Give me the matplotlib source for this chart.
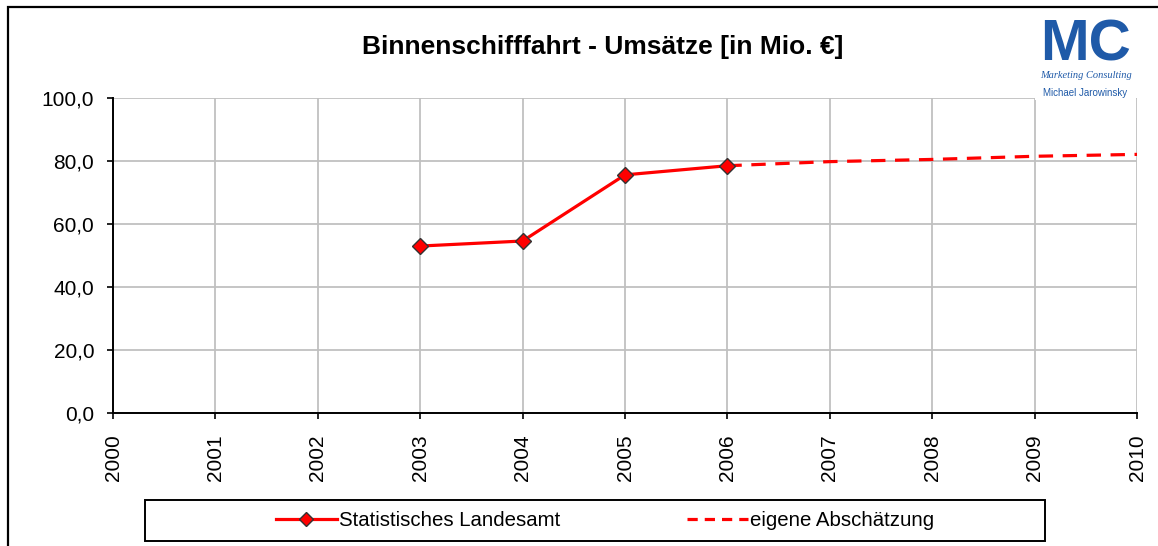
import matplotlib
matplotlib.use("Agg")
import matplotlib.pyplot as plt
from matplotlib.patches import Rectangle
from matplotlib.lines import Line2D

plt.rcParams['font.family'] = ['Liberation Sans', 'DejaVu Sans']

# data
years = [2000, 2001, 2002, 2003, 2004, 2005, 2006, 2007, 2008, 2009, 2010]
stat_years = [2003, 2004, 2005, 2006]
stat_vals = [53.0, 54.6, 75.6, 78.5]
est_years = [2006, 2007, 2008, 2009, 2010]
est_vals = [78.5, 79.8, 80.5, 81.5, 82.1]
yticks = [0, 20, 40, 60, 80, 100]
ytick_labels = ["0,0", "20,0", "40,0", "60,0", "80,0", "100,0"]

W, H = 1158, 546
fig = plt.figure(figsize=(W / 100, H / 100), dpi=100)
fig.patch.set_facecolor("white")

def px(x, y):
    # pixel (from top-left) -> figure fraction
    return x / W, 1 - y / H

l, t = px(113, 98)
r, b = px(1137, 413)
ax = fig.add_axes([l, b, r - l, t - b])

ax.plot(stat_years, stat_vals, color="#ff0000", lw=2.3, marker="D", ms=8,
        mfc="#ff0000", mec="#333333", mew=1.0, zorder=4, clip_on=False)
ax.plot(est_years, est_vals, color="#ff0000", lw=2.3, dashes=(4.5, 3),
        zorder=3, clip_on=False)

ax.set_xlim(2000, 2010)
ax.set_ylim(0, 100)
ax.set_xticks(years)
ax.set_xticklabels([str(y) for y in years], rotation=90)
ax.set_yticks(yticks)
ax.set_yticklabels(ytick_labels)
ax.grid(True, color="#c0c0c0", lw=1.3)
ax.set_axisbelow(True)
for s in ["top", "right"]:
    ax.spines[s].set_visible(False)
for s in ["left", "bottom"]:
    ax.spines[s].set_linewidth(1.4)
    ax.spines[s].set_color("black")
ax.tick_params(axis="y", direction="out", length=4.5, width=1.2, pad=9, labelsize=15)
ax.tick_params(axis="x", direction="out", length=4.5, width=1.2, pad=11, labelsize=15)

# title
tx, ty = px(603, 47)
fig.text(tx, ty, "Binnenschifffahrt - Umsätze [in Mio. €]", ha="center",
         va="center", fontsize=19, fontweight="bold")

# outer frame
fx, fy = px(8, 7)
fig.patches.append(Rectangle((fx, -0.1), 1.2, fy + 0.1, transform=fig.transFigure,
                             fill=False, ec="black", lw=1.6))

# logo
lx0, ly0 = px(1035, 100)
lx1, ly1 = px(1136, 10)
fig.patches.append(Rectangle((lx0, ly0), lx1 - lx0, ly1 - ly0, transform=fig.transFigure,
                             fc="white", ec="none", zorder=5))
blue = "#1f5aa8"
mx, my = px(1086, 60)
fig.text(mx, my, "MC", ha="center", va="baseline", fontsize=42, fontweight="bold",
         color=blue, zorder=6)
mx, my = px(1086, 76)
fig.text(mx, my, "Marketing Consulting", ha="center", va="center", fontsize=7.5,
         style="italic", family=["Liberation Serif"], color=blue, zorder=6)
mx, my = px(1085, 93)
fig.text(mx, my, "Michael Jarowinsky", ha="center", va="center", fontsize=7,
         color=blue, zorder=6)

# legend
bx0, by0 = px(145, 541)
bx1, by1 = px(1045, 500)
fig.patches.append(Rectangle((bx0, by0), bx1 - bx0, by1 - by0, transform=fig.transFigure,
                             fill=False, ec="black", lw=1.4))
handles = [
    Line2D([], [], color="#ff0000", lw=2.3, marker="D", ms=7, mfc="#ff0000",
           mec="#333333", mew=1.0),
    Line2D([], [], color="#ff0000", lw=2.3, dashes=(3.2, 2.2)),
]
cx, cy = px(605, 521)
fig.legend(handles, ["Statistisches Landesamt", "eigene Abschätzung"], loc="center",
           bbox_to_anchor=(cx, cy), ncol=2, frameon=False, fontsize=14.7,
           handlelength=3.0, handletextpad=0.1, columnspacing=6.2)

fig.savefig("out.png", dpi=100)
